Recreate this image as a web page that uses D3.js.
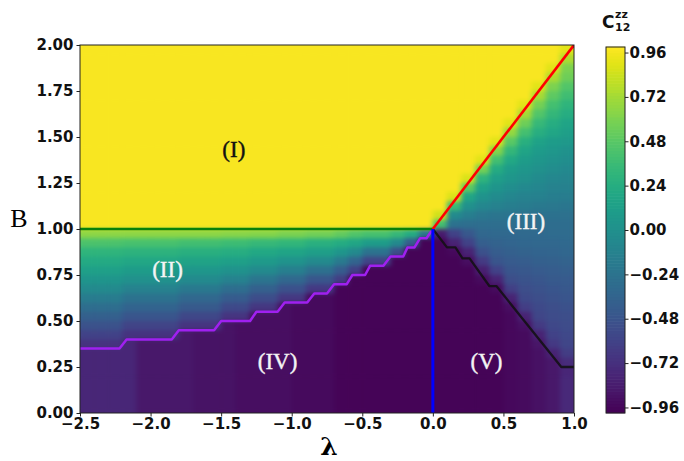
<!DOCTYPE html>
<html>
<head>
<meta charset="utf-8">
<script src="https://cdnjs.cloudflare.com/ajax/libs/d3/7.8.5/d3.min.js"></script>
<style>
  body { margin: 0; background: #fff; }
  .tick text { font-family: "DejaVu Sans", sans-serif; font-weight: bold; font-size: 15px; fill: #111; }
  .tick line { stroke: #222; }
  .region { font-family: "Liberation Serif", serif; font-size: 23px; text-anchor: middle; stroke-width: 0.4px; }
</style>
</head>
<body>
<div id="chart"></div>
<script>
// cell centres of the (lambda, B) grid
const lambdaCenters = [-2.45, -2.35, -2.25, -2.15, -2.05, -1.95, -1.85, -1.75, -1.65, -1.55,
    -1.45, -1.35, -1.25, -1.15, -1.05, -0.95, -0.85, -0.75, -0.65, -0.55,
    -0.45, -0.35, -0.25, -0.15, -0.05, 0.05, 0.15, 0.25, 0.35, 0.45,
    0.55, 0.65, 0.75, 0.85, 0.95];
const bCenters = [1.975, 1.925, 1.875, 1.825, 1.775, 1.725, 1.675, 1.625, 1.575, 1.525,
    1.475, 1.425, 1.375, 1.325, 1.275, 1.225, 1.175, 1.125, 1.075, 1.025,
    0.975, 0.925, 0.875, 0.825, 0.775, 0.725, 0.675, 0.625, 0.575, 0.525,
    0.475, 0.425, 0.375, 0.325, 0.275, 0.225, 0.175, 0.125, 0.075, 0.025];

// C12zz in hundredths, one row per B (top to bottom), one column per lambda
const czzPct = [
    [97,97,97,97,97,97,97,97,97,97,97,97,97,97,97,97,97,97,97,97,97,97,97,97,97, 97,97,97,97,97,97,97,97,97,90],
    [97,97,97,97,97,97,97,97,97,97,97,97,97,97,97,97,97,97,97,97,97,97,97,97,97, 97,97,97,97,97,97,97,97,97,75],
    [97,97,97,97,97,97,97,97,97,97,97,97,97,97,97,97,97,97,97,97,97,97,97,97,97, 97,97,97,97,97,97,97,97,90,60],
    [97,97,97,97,97,97,97,97,97,97,97,97,97,97,97,97,97,97,97,97,97,97,97,97,97, 97,97,97,97,97,97,97,97,75,55],
    [97,97,97,97,97,97,97,97,97,97,97,97,97,97,97,97,97,97,97,97,97,97,97,97,97, 97,97,97,97,97,97,97,90,60,45],
    [97,97,97,97,97,97,97,97,97,97,97,97,97,97,97,97,97,97,97,97,97,97,97,97,97, 97,97,97,97,97,97,97,73,50,38],
    [97,97,97,97,97,97,97,97,97,97,97,97,97,97,97,97,97,97,97,97,97,97,97,97,97, 97,97,97,97,97,97,90,58,40,30],
    [97,97,97,97,97,97,97,97,97,97,97,97,97,97,97,97,97,97,97,97,97,97,97,97,97, 97,97,97,97,97,97,72,45,32,24],
    [97,97,97,97,97,97,97,97,97,97,97,97,97,97,97,97,97,97,97,97,97,97,97,97,97, 97,97,97,97,97,90,55,34,24,17],
    [97,97,97,97,97,97,97,97,97,97,97,97,97,97,97,97,97,97,97,97,97,97,97,97,97, 97,97,97,97,97,68,40,25,18,12],
    [97,97,97,97,97,97,97,97,97,97,97,97,97,97,97,97,97,97,97,97,97,97,97,97,97, 97,97,97,97,90,48,26,15,10,7],
    [97,97,97,97,97,97,97,97,97,97,97,97,97,97,97,97,97,97,97,97,97,97,97,97,97, 97,97,97,97,62,32,17,9,6,2],
    [97,97,97,97,97,97,97,97,97,97,97,97,97,97,97,97,97,97,97,97,97,97,97,97,97, 97,97,97,90,40,20,10,5,1,-2],
    [97,97,97,97,97,97,97,97,97,97,97,97,97,97,97,97,97,97,97,97,97,97,97,97,97, 97,97,97,58,22,10,5,0,-3,-6],
    [97,97,97,97,97,97,97,97,97,97,97,97,97,97,97,97,97,97,97,97,97,97,97,97,97, 97,97,88,30,11,5,0,-4,-7,-9],
    [97,97,97,97,97,97,97,97,97,97,97,97,97,97,97,97,97,97,97,97,97,97,97,97,97, 97,97,50,14,4,-2,-6,-8,-11,-13],
    [97,97,97,97,97,97,97,97,97,97,97,97,97,97,97,97,97,97,97,97,97,97,97,97,97, 97,88,18,3,-4,-8,-11,-13,-15,-16],
    [97,97,97,97,97,97,97,97,97,97,97,97,97,97,97,97,97,97,97,97,97,97,97,97,97, 97,35,0,-7,-12,-15,-17,-19,-20,-21],
    [97,97,97,97,97,97,97,97,97,97,97,97,97,97,97,97,97,97,97,97,97,97,97,97,97, 85,-5,-15,-20,-22,-23,-24,-25,-25,-26],
    [97,97,97,97,97,97,97,97,97,97,97,97,97,97,97,97,97,97,97,97,97,97,97,97,97, 40,-25,-28,-28,-28,-28,-28,-28,-29,-29],
    [65,65,65,65,65,65,65,65,65,65,64,64,63,63,60,60,57,57,52,45,41,41,34,23,-20, -85,-60,-45,-33,-32,-32,-31,-31,-30,-30],
    [43,43,43,41,41,41,41,39,39,39,37,37,34,34,31,31,27,27,23,18,10,10,-5,-42,-97, -97,-80,-60,-40,-37,-35,-34,-33,-33,-32],
    [30,30,30,28,28,28,28,26,26,26,24,24,20,20,17,17,12,12,5,-5,-24,-24,-53,-97,-97, -97,-95,-80,-50,-41,-39,-37,-36,-35,-34],
    [21,21,21,19,19,19,19,16,16,16,13,13,8,8,3,3,-5,-5,-18,-35,-59,-59,-97,-97,-97, -97,-97,-92,-65,-47,-43,-41,-39,-38,-37],
    [13,13,13,10,10,10,10,6,6,6,1,1,-5,-5,-14,-14,-27,-27,-42,-62,-97,-97,-97,-97,-97, -97,-97,-97,-82,-60,-47,-45,-43,-41,-40],
    [4,4,4,0,0,0,0,-5,-5,-5,-12,-12,-22,-22,-33,-33,-46,-46,-64,-97,-97,-97,-97,-97,-97, -97,-97,-97,-93,-80,-52,-48,-46,-44,-43],
    [-5,-5,-5,-11,-11,-11,-11,-19,-19,-19,-28,-28,-38,-38,-50,-50,-66,-66,-97,-97,-97,-97,-97,-97,-97, -97,-97,-97,-97,-93,-62,-52,-49,-47,-45],
    [-17,-17,-17,-24,-24,-24,-24,-33,-33,-33,-42,-42,-53,-53,-67,-67,-94,-94,-97,-97,-97,-97,-97,-97,-97, -97,-97,-97,-97,-97,-80,-55,-52,-49,-47],
    [-28,-28,-28,-36,-36,-36,-36,-44,-44,-44,-55,-55,-68,-68,-92,-94,-94,-94,-97,-97,-97,-97,-97,-97,-97, -97,-97,-97,-97,-97,-92,-63,-55,-52,-50],
    [-39,-39,-39,-47,-47,-47,-47,-57,-57,-57,-69,-69,-92,-92,-92,-94,-94,-94,-97,-97,-97,-97,-97,-97,-97, -97,-97,-97,-97,-97,-95,-80,-58,-54,-52],
    [-49,-49,-49,-59,-59,-59,-59,-69,-69,-69,-89,-92,-92,-92,-92,-94,-94,-94,-97,-97,-97,-97,-97,-97,-97, -97,-97,-97,-97,-97,-95,-90,-65,-56,-54],
    [-60,-60,-60,-70,-70,-70,-70,-86,-89,-89,-89,-92,-92,-92,-92,-94,-94,-94,-97,-97,-97,-97,-97,-97,-97, -97,-97,-97,-97,-97,-95,-93,-80,-60,-56],
    [-70,-70,-70,-78,-86,-86,-86,-86,-89,-89,-89,-92,-92,-92,-92,-94,-94,-94,-97,-97,-97,-97,-97,-97,-97, -97,-97,-97,-97,-97,-95,-93,-88,-66,-58],
    [-78,-78,-78,-78,-86,-86,-86,-86,-89,-89,-89,-92,-92,-92,-92,-94,-94,-94,-97,-97,-97,-97,-97,-97,-97, -97,-97,-97,-97,-97,-95,-93,-90,-80,-64],
    [-78,-78,-78,-78,-86,-86,-86,-86,-89,-89,-89,-92,-92,-92,-92,-94,-94,-94,-97,-97,-97,-97,-97,-97,-97, -97,-97,-97,-97,-97,-95,-93,-90,-86,-75],
    [-78,-78,-78,-78,-86,-86,-86,-86,-89,-89,-89,-92,-92,-92,-92,-94,-94,-94,-97,-97,-97,-97,-97,-97,-97, -97,-97,-97,-97,-97,-95,-93,-90,-86,-78],
    [-78,-78,-78,-78,-86,-86,-86,-86,-89,-89,-89,-92,-92,-92,-92,-94,-94,-94,-97,-97,-97,-97,-97,-97,-97, -97,-97,-97,-97,-97,-95,-93,-90,-86,-76],
    [-78,-78,-78,-78,-86,-86,-86,-86,-89,-89,-89,-92,-92,-92,-92,-94,-94,-94,-97,-97,-97,-97,-97,-97,-97, -97,-97,-97,-97,-97,-95,-93,-90,-86,-76],
    [-78,-78,-78,-78,-86,-86,-86,-86,-89,-89,-89,-92,-92,-92,-92,-94,-94,-94,-97,-97,-97,-97,-97,-97,-97, -97,-97,-97,-97,-97,-95,-93,-90,-86,-76],
    [-78,-78,-78,-78,-86,-86,-86,-86,-89,-89,-89,-92,-92,-92,-92,-94,-94,-94,-97,-97,-97,-97,-97,-97,-97, -97,-97,-97,-97,-97,-95,-93,-90,-86,-76]
];

// phase boundaries
const greenLambda = [-2.5, 0.0];
const greenB = [1.0, 1.0];
const redLambda = [0.0, 1.0];
const redB = [1.0, 2.0];
const blueLambda = [0.0, 0.0];
const blueB = [0.0, 1.0];
const purpleLambda = [-2.5, -2.22, -2.17, -1.85, -1.80, -1.55, -1.50, -1.295, -1.25, -1.10, -1.05,
    -0.89, -0.84, -0.75, -0.70, -0.61, -0.57, -0.48, -0.445, -0.35, -0.30, -0.21, -0.18,
    -0.13, -0.09, -0.045, 0.0];
const purpleB = [0.35, 0.35, 0.40, 0.40, 0.45, 0.45, 0.50, 0.50, 0.55, 0.55, 0.60,
    0.60, 0.65, 0.65, 0.70, 0.70, 0.75, 0.75, 0.80, 0.80, 0.85, 0.85, 0.90,
    0.90, 0.95, 0.95, 1.0];
const blackLambda = [0.0, 0.10, 0.16, 0.21, 0.26, 0.40, 0.45, 0.91, 1.0];
const blackB = [1.0, 0.90, 0.90, 0.84, 0.84, 0.69, 0.69, 0.25, 0.25];

// region labels
const regionText = ['(I)', '(II)', '(III)', '(IV)', '(V)'];
const regionLambda = [-1.41, -1.88, 0.66, -1.10, 0.38];
const regionB = [1.42, 0.77, 1.03, 0.27, 0.27];
const regionDark = [true, false, false, false, false];

const xTicks = [-2.5, -2.0, -1.5, -1.0, -0.5, 0.0, 0.5, 1.0];
const yTicks = [0.0, 0.25, 0.5, 0.75, 1.0, 1.25, 1.5, 1.75, 2.0];
const cbarTicks = [-0.96, -0.72, -0.48, -0.24, 0.0, 0.24, 0.48, 0.72, 0.96];
const cRange = [-0.99, 0.99];

const W = 684, H = 461;
const plot = { left: 80, right: 574, top: 45, bottom: 413 };
const cbar = { left: 606, right: 625, top: 47, bottom: 413 };

const svg = d3.select('#chart').append('svg')
    .attr('width', W)
    .attr('height', H);

const x = d3.scaleLinear().domain([-2.5, 1.0]).range([plot.left, plot.right]);
const y = d3.scaleLinear().domain([0, 2]).range([plot.bottom, plot.top]);
const color = d3.scaleSequential(d3.interpolateViridis).domain(cRange);

const defs = svg.append('defs');
defs.append('clipPath').attr('id', 'plotClip')
    .append('rect')
    .attr('x', plot.left).attr('y', plot.top)
    .attr('width', plot.right - plot.left)
    .attr('height', plot.bottom - plot.top);

// light smoothing of the cells, with the edge alpha forced back to 1
const soft = defs.append('filter').attr('id', 'soft')
    .attr('x', 0).attr('y', 0).attr('width', 1).attr('height', 1)
    .attr('color-interpolation-filters', 'sRGB');
soft.append('feGaussianBlur').attr('stdDeviation', '2.5 2');
soft.append('feComponentTransfer').append('feFuncA')
    .attr('type', 'table').attr('tableValues', '1 1');

const cells = [];
czzPct.forEach((row, i) => {
    row.forEach((v, j) => {
        cells.push({ lam: lambdaCenters[j], b: bCenters[i], v: v / 100 });
    });
});
const dLam = lambdaCenters[1] - lambdaCenters[0];
const dB = bCenters[0] - bCenters[1];

const clipped = svg.append('g').attr('clip-path', 'url(#plotClip)');
clipped.append('g')
    .attr('filter', 'url(#soft)')
    .selectAll('rect')
    .data(cells)
    .join('rect')
    .attr('x', d => x(d.lam - dLam / 2))
    .attr('y', d => y(d.b + dB / 2))
    .attr('width', x(dLam) - x(0) + 0.6)
    .attr('height', y(0) - y(dB) + 0.6)
    .attr('fill', d => color(d.v));

const line = d3.line().x(d => x(d[0])).y(d => y(d[1]));
const boundary = (lams, bs, stroke, width, opacity) => {
    clipped.append('path')
        .datum(d3.zip(lams, bs))
        .attr('d', line)
        .attr('fill', 'none')
        .attr('stroke', stroke)
        .attr('stroke-width', width)
        .attr('stroke-opacity', opacity)
        .attr('stroke-linejoin', 'round');
};
boundary(blackLambda, blackB, '#111', 2.3, 0.85);
boundary(purpleLambda, purpleB, '#a020f0', 2.5, 1);
boundary(greenLambda, greenB, '#0a800a', 2.6, 1);
boundary(redLambda, redB, '#ff0000', 2.6, 1);
boundary(blueLambda, blueB, '#0000ff', 3, 1);

svg.append('g')
    .selectAll('text')
    .data(regionText)
    .join('text')
    .attr('class', 'region')
    .attr('x', (d, i) => x(regionLambda[i]))
    .attr('y', (d, i) => y(regionB[i]))
    .attr('dy', '0.24em')
    .attr('fill', (d, i) => regionDark[i] ? '#111' : '#f4f4f4')
    .attr('stroke', (d, i) => regionDark[i] ? '#111' : '#f4f4f4')
    .text(d => d);

// frame
svg.append('rect')
    .attr('x', plot.left).attr('y', plot.top)
    .attr('width', plot.right - plot.left)
    .attr('height', plot.bottom - plot.top)
    .attr('fill', 'none')
    .attr('stroke', '#222')
    .attr('stroke-width', 1);

svg.append('g')
    .attr('transform', `translate(0,${plot.bottom})`)
    .call(d3.axisBottom(x).tickValues(xTicks).tickFormat(d3.format('.1f')).tickSize(3.5).tickPadding(2))
    .call(g => g.select('.domain').remove());

svg.append('g')
    .attr('transform', `translate(${plot.left},0)`)
    .call(d3.axisLeft(y).tickValues(yTicks).tickFormat(d3.format('.2f')).tickSize(3.5).tickPadding(3))
    .call(g => g.select('.domain').remove());

svg.append('text')
    .attr('x', 19).attr('y', 227)
    .attr('text-anchor', 'middle')
    .style('font-family', '"Liberation Serif", serif')
    .style('font-size', '26px')
    .text('B');

svg.append('text')
    .attr('x', (plot.left + plot.right) / 2 + 2).attr('y', 455)
    .attr('text-anchor', 'middle')
    .style('font-family', '"DejaVu Serif", serif')
    .style('font-weight', 'bold')
    .style('font-size', '25px')
    .text('λ');

// colour bar
const cy = d3.scaleLinear().domain(cRange).range([cbar.bottom, cbar.top]);
const nBands = 120;
const bandVals = d3.range(nBands).map(k => cRange[0] + (k + 0.5) * (cRange[1] - cRange[0]) / nBands);
const bandH = (cbar.bottom - cbar.top) / nBands;
svg.append('g')
    .selectAll('rect')
    .data(bandVals)
    .join('rect')
    .attr('x', cbar.left)
    .attr('width', cbar.right - cbar.left)
    .attr('y', d => cy(d) - bandH / 2 - 0.3)
    .attr('height', bandH + 0.6)
    .attr('fill', d => color(d));

svg.append('rect')
    .attr('x', cbar.left).attr('y', cbar.top)
    .attr('width', cbar.right - cbar.left)
    .attr('height', cbar.bottom - cbar.top)
    .attr('fill', 'none')
    .attr('stroke', '#222')
    .attr('stroke-width', 1);

svg.append('g')
    .attr('transform', `translate(${cbar.right},0)`)
    .call(d3.axisRight(cy).tickValues(cbarTicks).tickFormat(d3.format('.2f')).tickSize(3.5).tickPadding(1))
    .call(g => g.select('.domain').remove());

const title = svg.append('g')
    .style('font-family', '"DejaVu Sans", sans-serif')
    .style('font-weight', 'bold')
    .attr('fill', '#111');
title.append('text').attr('x', 602).attr('y', 28).style('font-size', '17px').text('C');
title.append('text').attr('x', 615).attr('y', 18).style('font-size', '11px').text('zz');
title.append('text').attr('x', 615).attr('y', 31).style('font-size', '11px').text('12');
</script>
</body>
</html>
